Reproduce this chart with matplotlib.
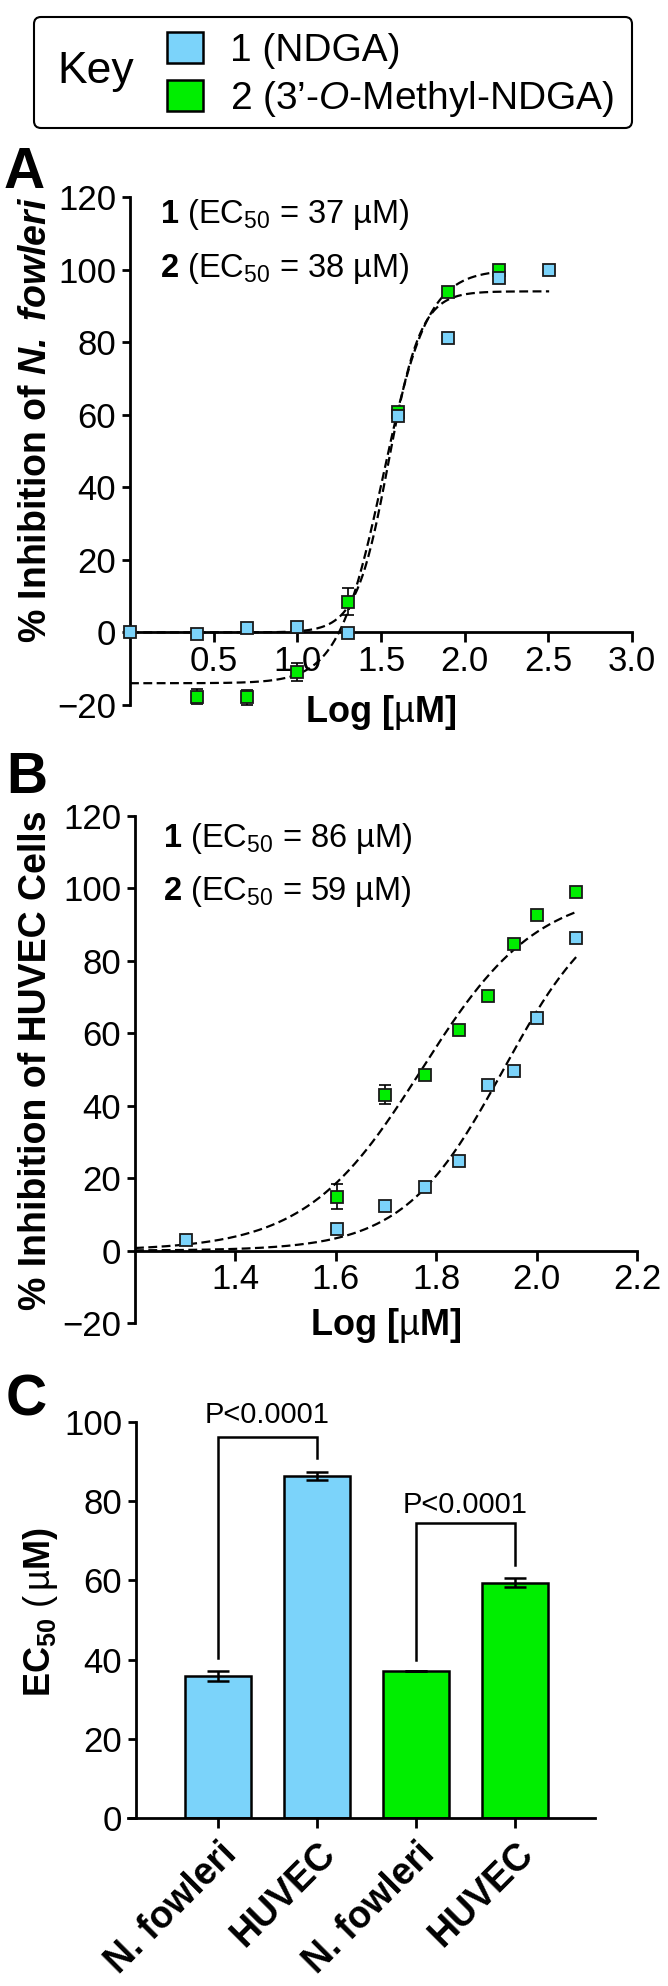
import numpy as np
import matplotlib
matplotlib.use('Agg')
import matplotlib.pyplot as plt
from matplotlib.patches import FancyBboxPatch, Rectangle
from matplotlib.transforms import Affine2D

plt.rcParams['font.family'] = ['Liberation Sans', 'DejaVu Sans']
plt.rcParams['mathtext.fontset'] = 'custom'
plt.rcParams['mathtext.rm'] = 'Liberation Sans'
plt.rcParams['mathtext.it'] = 'Liberation Sans:italic'
plt.rcParams['mathtext.bf'] = 'Liberation Sans:bold'
plt.rcParams['mathtext.bfit'] = 'Liberation Sans:italic:bold'

# ---------------- data ----------------
legend_title = 'Key'
legend_labels = ['1 (NDGA)', '2 (3\u2019-$\\mathit{O}$-Methyl-NDGA)']
blue = '#7BD3FA'
green = '#00EE00'

# Panel A: % inhibition of N. fowleri vs log concentration
a_x_blue = [0.0, 0.398, 0.699, 1.0, 1.301, 1.602, 1.903, 2.204, 2.505]
a_y_blue = [0.0, -0.3, 1.3, 1.5, -0.2, 59.7, 81.2, 97.7, 99.9]
a_x_green = [0.398, 0.699, 1.0, 1.301, 1.602, 1.903, 2.204]
a_y_green = [-17.7, -17.9, -10.8, 8.5, 60.8, 93.9, 99.9]
a_err_green = [2.0, 2.0, 2.5, 3.8, 1.0, 0.8, 0.5]
# fitted 4-parameter logistic: bottom, top, logEC50, hill
a_fit_blue = [0.0, 94.0, 1.545, 4.5]
a_fit_green = [-14.0, 100.0, 1.512, 3.24]
a_range_blue = [0.0, 2.505]
a_range_green = [0.0, 2.204]
a_xticks = [0.5, 1.0, 1.5, 2.0, 2.5, 3.0]
a_ec50 = ['37', '38']

# Panel B: % inhibition of HUVEC cells
b_x_blue = [1.301, 1.602, 1.699, 1.778, 1.845, 1.903, 1.954, 2.0, 2.079]
b_y_blue = [3.0, 6.0, 12.4, 17.6, 24.8, 45.8, 49.7, 64.2, 86.3]
b_x_green = [1.602, 1.699, 1.778, 1.845, 1.903, 1.954, 2.0, 2.079]
b_y_green = [14.9, 43.0, 48.6, 61.0, 70.3, 84.7, 92.7, 99.0]
b_err_green = [3.5, 2.6, 0.8, 1.0, 0.8, 0.8, 0.8, 0.8]
b_fit_blue = [0.0, 100.0, 1.934, 4.36]
b_fit_green = [0.0, 100.0, 1.771, 3.76]
b_range = [1.2, 2.079]
b_xticks = [1.4, 1.6, 1.8, 2.0, 2.2]
b_ec50 = ['86', '59']

curve_yticks = [-20, 0, 20, 40, 60, 80, 100, 120]

# Panel C: EC50 bars
c_categories = ['N. fowleri', 'HUVEC', 'N. fowleri', 'HUVEC']
c_values = [35.9, 86.3, 37.0, 59.4]
c_errors = [1.3, 1.0, 0.0, 1.1]
c_colors = [blue, blue, green, green]
c_yticks = [0, 20, 40, 60, 80, 100]
c_pairs = [(0, 1), (2, 3)]
c_p_text = ['P<0.0001', 'P<0.0001']
c_bracket_top = [96.2, 74.5]
c_bracket_left_end = [40.4, 40.0]
c_bracket_right_end = [90.9, 63.9]
c_p_y = [99.7, 77.0]

# ---------------- figure ----------------
W, H = 668, 1986
fig = plt.figure(figsize=(W / 100, H / 100), dpi=100)
pxT = Affine2D().scale(1.0 / W, -1.0 / H).translate(0, 1) + fig.transFigure


def axes_px(x0, x1, ytop, ybot):
    return fig.add_axes([x0 / W, 1 - ybot / H, (x1 - x0) / W, (ybot - ytop) / H])


def four_pl(x, p):
    b, t, c, h = p
    return b + (t - b) / (1 + 10 ** ((c - x) * h))


def style_curve_axes(ax, xlim, xticks):
    ax.set_xlim(*xlim)
    ax.set_ylim(-20, 120)
    for s in ['top', 'right']:
        ax.spines[s].set_visible(False)
    ax.spines['bottom'].set_position(('data', 0))
    for s in ['left', 'bottom']:
        ax.spines[s].set_linewidth(2)
    ax.set_xticks(xticks)
    ax.set_xticklabels([f'{t:.1f}' for t in xticks])
    ax.set_yticks(curve_yticks)
    ax.tick_params(axis='x', direction='out', length=7, width=2, pad=2, labelsize=25)
    ax.tick_params(axis='y', direction='out', length=6, width=2, pad=4, labelsize=25)
    ax.patch.set_alpha(0)


def draw_points(ax, x, y, color, err=None):
    if err is not None:
        ax.errorbar(x, y, yerr=err, fmt='none', ecolor='black', elinewidth=1.2,
                    capsize=4, capthick=1.2, zorder=3, clip_on=False)
    ax.plot(x, y, ls='none', marker='s', ms=9, mfc=color, mec='#1a1a1a',
            mew=1.3, zorder=4, clip_on=False)


def draw_fit(ax, p, rng):
    xs = np.linspace(rng[0], rng[1], 300)
    ax.plot(xs, four_pl(xs, p), color='black', lw=1.6, ls=(0, (4, 2)),
            zorder=2, clip_on=False)


# ---- Legend (key) ----
fig.patches.append(FancyBboxPatch((34, 17), 598, 111,
                                  boxstyle='round,pad=0,rounding_size=7',
                                  fc='white', ec='black', lw=1.5, transform=pxT))
fig.text(96, 83, legend_title, transform=pxT, fontsize=32, ha='center', va='baseline')
for i, (lab, col) in enumerate(zip(legend_labels, [blue, green])):
    ytop = 32 + i * 48
    fig.patches.append(Rectangle((167, ytop), 36, 31, fc=col, ec='black', lw=1.8,
                                 transform=pxT))
    fig.text(230, ytop + 29, lab, transform=pxT, fontsize=28, va='baseline')

# ---- Panel A ----
axA = axes_px(130, 632, 197, 705)
style_curve_axes(axA, (0, 3.0), a_xticks)
draw_fit(axA, a_fit_blue, a_range_blue)
draw_fit(axA, a_fit_green, a_range_green)
draw_points(axA, a_x_green, a_y_green, green, a_err_green)
draw_points(axA, a_x_blue, a_y_blue, blue)
for i, v in enumerate(a_ec50):
    fig.text(160, 223 + i * 54, f'$\\mathbf{{{i + 1}}}$ (EC$_{{50}}$ = {v} \u00b5M)',
             transform=pxT, fontsize=23.5, va='baseline')
fig.text(381, 722, 'Log [$\\mathrm{\u00b5}$M]', transform=pxT, fontsize=26,
         fontweight='bold', ha='center', va='baseline')
fig.text(36, 420, '% Inhibition of $\\mathbfit{N.\\ fowleri}$', transform=pxT,
         fontsize=27, fontweight='bold', rotation=90, ha='center', va='center')
fig.text(4, 188, 'A', transform=pxT, fontsize=41, fontweight='bold', va='baseline')

# ---- Panel B ----
axB = axes_px(135, 637, 816, 1323)
style_curve_axes(axB, (1.2, 2.2), b_xticks)
draw_fit(axB, b_fit_blue, b_range)
draw_fit(axB, b_fit_green, b_range)
draw_points(axB, b_x_green, b_y_green, green, b_err_green)
draw_points(axB, b_x_blue, b_y_blue, blue)
for i, v in enumerate(b_ec50):
    fig.text(163, 847 + i * 53, f'$\\mathbf{{{i + 1}}}$ (EC$_{{50}}$ = {v} \u00b5M)',
             transform=pxT, fontsize=23.5, va='baseline')
fig.text(386, 1335, 'Log [$\\mathrm{\u00b5}$M]', transform=pxT, fontsize=26,
         fontweight='bold', ha='center', va='baseline')
fig.text(36, 1060, '% Inhibition of HUVEC Cells', transform=pxT,
         fontsize=27, fontweight='bold', rotation=90, ha='center', va='center')
fig.text(6, 793, 'B', transform=pxT, fontsize=41, fontweight='bold', va='baseline')

# ---- Panel C ----
axC = axes_px(128, 595, 1422, 1818)
xpos = np.arange(len(c_values))
axC.bar(xpos, c_values, width=0.667, color=c_colors, edgecolor='black', lw=1.8, zorder=2)
axC.errorbar(xpos, c_values, yerr=c_errors, fmt='none', ecolor='black', elinewidth=1.8,
             capsize=8, capthick=1.8, zorder=3)
axC.set_xlim(-0.909, 3.808)
axC.set_ylim(0, 100)
for s in ['top', 'right']:
    axC.spines[s].set_visible(False)
for s in ['left', 'bottom']:
    axC.spines[s].set_linewidth(2)
axC.spines['left'].set_position(('data', -0.828))
axC.set_yticks(c_yticks)
axC.set_xticks(xpos)
axC.set_xticklabels(c_categories, rotation=45, ha='right', rotation_mode='anchor',
                    fontweight='bold', fontsize=27)
axC.tick_params(axis='x', direction='out', length=7, width=2, pad=6)
axC.tick_params(axis='y', direction='out', length=6, width=2, pad=4, labelsize=25)
for (i, j), top, le, re, txt, ty in zip(c_pairs, c_bracket_top, c_bracket_left_end,
                                        c_bracket_right_end, c_p_text, c_p_y):
    axC.plot([i, i, j, j], [le, top, top, re], color='black', lw=1.8, clip_on=False,
             solid_joinstyle='miter')
    axC.text((i + j) / 2, ty, txt, ha='center', va='baseline', fontsize=21, clip_on=False)
fig.text(40, 1612, 'EC$_{\\mathbf{50}}$ $\\mathrm{(\\,\u00b5}$M)', transform=pxT,
         fontsize=26, fontweight='bold', rotation=90, ha='center', va='center')
fig.text(6, 1416, 'C', transform=pxT, fontsize=41, fontweight='bold', va='baseline')

fig.savefig('out.png', dpi=100)
